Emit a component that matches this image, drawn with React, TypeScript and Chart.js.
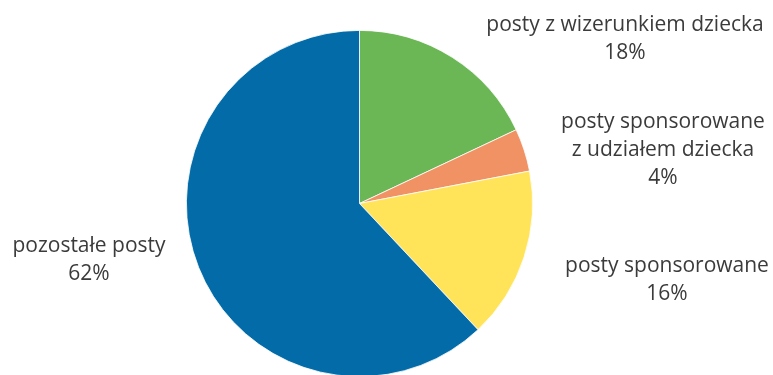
import React, { useEffect, useRef } from "react";
import { Chart, registerables } from "chart.js";

Chart.register(...registerables);

const categories = [
  "posty z wizerunkiem dziecka",
  "posty sponsorowane z udziałem dziecka",
  "posty sponsorowane",
  "pozostałe posty",
];
const values = [18, 4, 16, 62];
const labelLines = [
  ["posty z wizerunkiem dziecka", "18%"],
  ["posty sponsorowane", "z udziałem dziecka", "4%"],
  ["posty sponsorowane", "16%"],
  ["pozostałe posty", "62%"],
];
const colors = ["#6BB755", "#F19265", "#FFE359", "#026BA8"];

// label anchors (center x, first baseline y)
const labelAnchors = [
  { x: 625, y: 31 },
  { x: 663, y: 128 },
  { x: 667, y: 272 },
  { x: 89, y: 252 },
];
const LINE_H = 28;

const labelPlugin = {
  id: "outerLabels",
  afterDraw(chart: any) {
    const ctx = chart.ctx;
    ctx.save();
    ctx.fillStyle = "#3b3b3b";
    ctx.font = "21px 'Open Sans'";
    ctx.textAlign = "center";
    ctx.textBaseline = "alphabetic";
    labelLines.forEach((lines, i) => {
      const a = labelAnchors[i];
      lines.forEach((t, j) => ctx.fillText(t, a.x, a.y + j * LINE_H));
    });
    ctx.restore();
  },
};

export default function App() {
  const ref = useRef<HTMLCanvasElement>(null);
  useEffect(() => {
    const chart = new Chart(ref.current!, {
      type: "pie",
      data: {
        labels: categories,
        datasets: [
          {
            data: values,
            backgroundColor: colors,
            borderColor: "#ffffff",
            borderWidth: 0.8,
          },
        ],
      },
      options: {
        responsive: false,
        animation: false,
        layout: { padding: { left: 186, right: 240, top: 30, bottom: 3 } },
        plugins: {
          legend: { display: false },
          tooltip: { enabled: false },
        },
      },
      plugins: [labelPlugin],
    });
    return () => chart.destroy();
  }, []);
  return (
    <div
      style={{
        position: "fixed",
        left: 0,
        top: 0,
        width: 773,
        height: 375,
        overflow: "hidden",
        background: "#fff",
      }}
    >
      <canvas ref={ref} width={773} height={380} style={{ display: "block" }} />
    </div>
  );
}
